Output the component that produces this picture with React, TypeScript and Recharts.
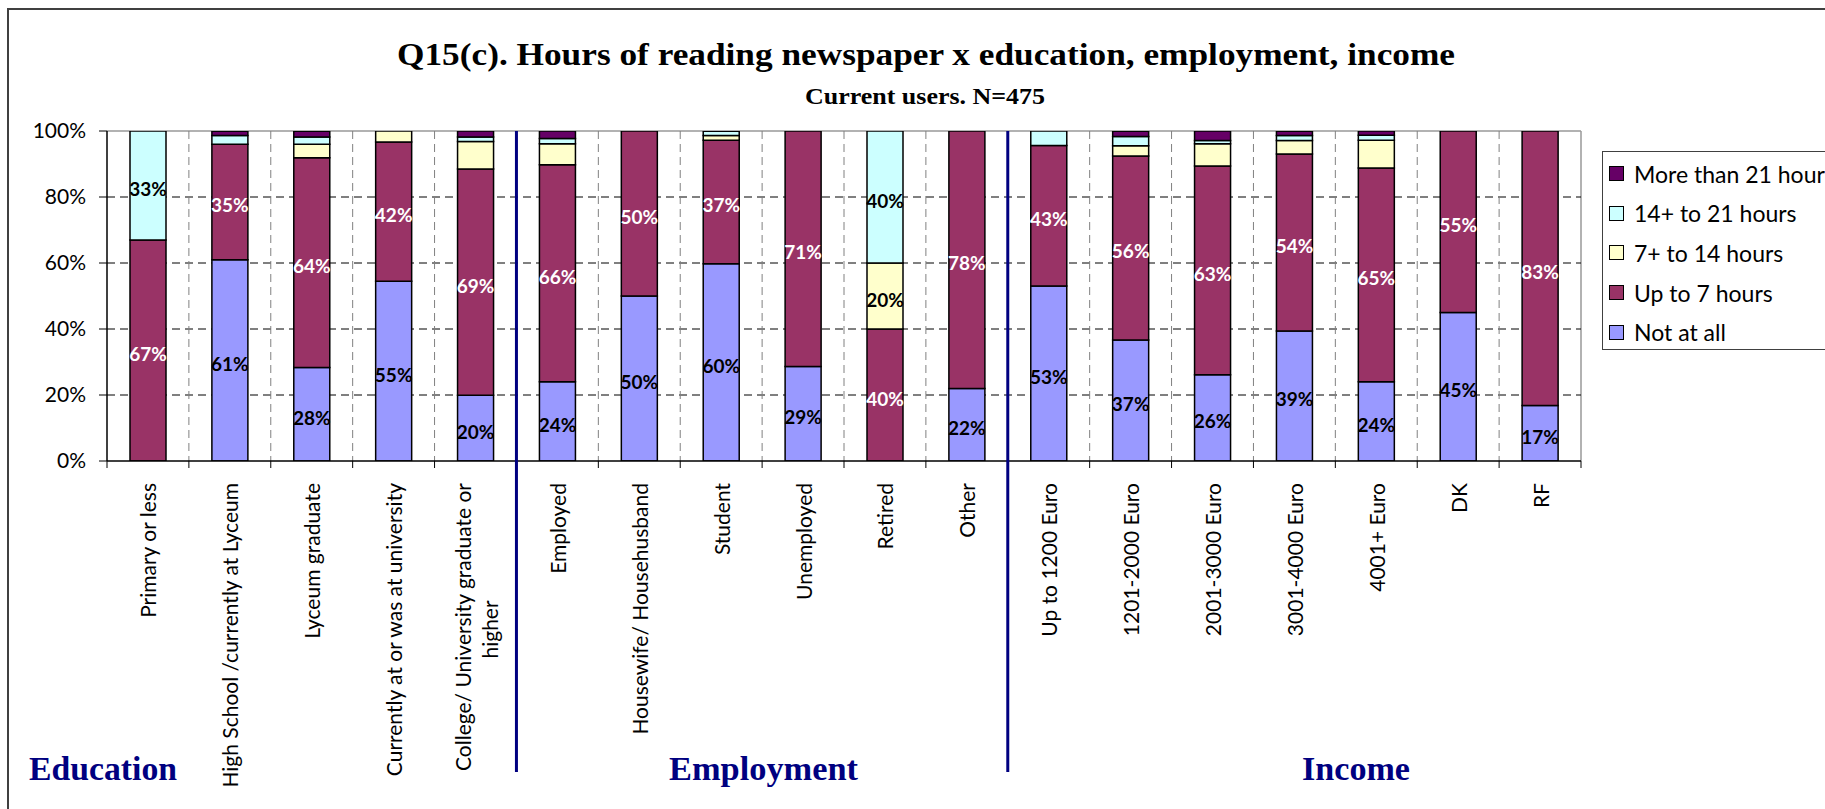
import React from 'react';
import { BarChart, Bar, XAxis, YAxis, CartesianGrid, Legend, LabelList } from 'recharts';

// categories, in order along the x axis
const CATEGORIES = [
  'Primary or less',
  'High School /currently at Lyceum',
  'Lyceum graduate',
  'Currently at or was at university',
  'College/ University graduate or higher',
  'Employed',
  'Housewife/ Househusband',
  'Student',
  'Unemployed',
  'Retired',
  'Other',
  'Up to 1200 Euro',
  '1201-2000 Euro',
  '2001-3000 Euro',
  '3001-4000 Euro',
  '4001+ Euro',
  'DK',
  'RF',
];

// group names and how many categories each one holds
const GROUP_NAMES = ['Education', 'Employment', 'Income'];
const GROUP_SIZES = [5, 6, 7];

// shares in %
const NOT_AT_ALL = [0, 61, 28.3, 54.5, 19.9, 24, 50, 59.8, 28.6, 0, 22, 53, 36.7, 26.1, 39.4, 24, 45, 16.8];
const UP_TO_7 = [67, 35, 63.6, 42.2, 68.6, 65.8, 50, 37.4, 71.4, 40, 78, 42.6, 55.7, 63.3, 53.6, 64.8, 55, 83.2];
const H7_TO_14 = [0, 0, 4.1, 3.3, 8.3, 6.3, 0, 1.4, 0, 20, 0, 0, 3.1, 6.7, 4.1, 8.4, 0, 0];
const H14_TO_21 = [33, 2.6, 2.2, 0, 1.4, 1.6, 0, 1.3, 0, 40, 0, 4.4, 2.8, 1.0, 1.5, 1.5, 0, 0];
const MORE_THAN_21 = [0, 1.3, 1.7, 0, 1.8, 2.3, 0, 0, 0, 0, 0, 0, 1.6, 2.9, 1.3, 1.3, 0, 0];

const Y_TICKS = [0, 20, 40, 60, 80, 100];

const SERIES = [
  { key: 'notAtAll', name: 'Not at all', values: NOT_AT_ALL, color: '#9999FF', text: '#000' },
  { key: 'upTo7', name: 'Up to 7 hours', values: UP_TO_7, color: '#993366', text: '#fff' },
  { key: 'h7to14', name: '7+ to 14 hours', values: H7_TO_14, color: '#FFFFCC', text: '#000' },
  { key: 'h14to21', name: '14+ to 21 hours', values: H14_TO_21, color: '#CCFFFF', text: '#000' },
  { key: 'moreThan21', name: 'More than 21 hours', values: MORE_THAN_21, color: '#660066', text: '#fff' },
];

const data = CATEGORIES.map((name, i) => {
  const row: Record<string, string | number> = { name };
  SERIES.forEach((s) => {
    row[s.key] = s.values[i];
  });
  return row;
});

// layout
const W = 1825;
const H = 809;
const PLOT_LEFT = 107;
const PLOT_TOP = 131;
const PLOT_RIGHT = 1581;
const PLOT_BOTTOM = 461;
const BAND = (PLOT_RIGHT - PLOT_LEFT) / CATEGORIES.length;
const NAVY = '#000080';
const SANS = 'Lato, "Open Sans", sans-serif';
const SERIF = '"Liberation Serif", serif';

const GROUP_TEXT = [
  { x: 29, len: 148 },
  { x: 669, len: 189 },
  { x: 1302, len: 108 },
];

function wrapLabel(text: string, max: number): string[] {
  const words = text.split(' ');
  const lines: string[] = [];
  let cur = '';
  words.forEach((w) => {
    const next = cur ? `${cur} ${w}` : w;
    if (next.length > max && cur) {
      lines.push(cur);
      cur = w;
    } else {
      cur = next;
    }
  });
  if (cur) lines.push(cur);
  return lines;
}

function CategoryTick(props: any) {
  const { x, y, payload } = props;
  const index = props.index ?? payload?.index ?? 0;
  const half = BAND / 2;
  const lines = wrapLabel(String(payload.value), 34);
  const fs = 21;
  const lh = 27;
  const anchorY = y + 22;
  const w0 = lines[0].length * 0.45 * fs;
  return (
    <g>
      <line x1={x - half} x2={x - half} y1={y} y2={y + 7} stroke="#000" strokeWidth={1} />
      {index === CATEGORIES.length - 1 && (
        <line x1={x + half} x2={x + half} y1={y} y2={y + 7} stroke="#000" strokeWidth={1} />
      )}
      {lines.map((ln, k) => {
        const dy = (k - (lines.length - 1) / 2) * lh;
        const first = k === 0;
        const tx = first ? x : x - w0 / 2;
        return (
          <text
            key={k}
            x={tx}
            y={anchorY + dy}
            transform={`rotate(-90 ${x} ${anchorY})`}
            textAnchor={first ? 'end' : 'middle'}
            dominantBaseline="central"
            fontFamily={SANS}
            fontSize={fs}
            fill="#000"
          >
            {ln}
          </text>
        );
      })}
    </g>
  );
}

const makeLabel = (fill: string) => (props: any) => {
  const x = Number(props.x);
  const y = Number(props.y);
  const width = Number(props.width);
  const height = Number(props.height);
  const value = Number(props.value);
  if (!value || value < 10) return null;
  return (
    <text
      x={x + width / 2}
      y={y + height / 2 + 3}
      textAnchor="middle"
      dominantBaseline="central"
      fill={fill}
      fontFamily={SANS}
      fontWeight={700}
      fontSize={19}
    >
      {`${Math.round(value)}%`}
    </text>
  );
};

const hGrid = (args: any) => {
  const top = args?.offset?.top ?? PLOT_TOP;
  const h = args?.offset?.height ?? PLOT_BOTTOM - PLOT_TOP;
  return Y_TICKS.filter((v) => v > 0 && v < 100).map((v) => top + h * (1 - v / 100));
};

const vGrid = (args: any) => {
  const left = args?.offset?.left ?? PLOT_LEFT;
  const w = args?.offset?.width ?? PLOT_RIGHT - PLOT_LEFT;
  const n = CATEGORIES.length;
  return Array.from({ length: n - 1 }, (_, i) => left + ((i + 1) * w) / n);
};

function LegendBox() {
  return (
    <div
      style={{
        position: 'relative',
        width: 240,
        height: 199,
        border: '1px solid #404040',
        boxSizing: 'border-box',
        background: '#fff',
        fontFamily: SANS,
      }}
    >
      {[...SERIES].reverse().map((s, i) => (
        <div
          key={s.key}
          style={{
            position: 'absolute',
            left: 6,
            top: 21.5 + i * 39.7 - 15,
            height: 30,
            display: 'flex',
            alignItems: 'center',
            whiteSpace: 'nowrap',
          }}
        >
          <span
            style={{
              width: 15,
              height: 15,
              boxSizing: 'border-box',
              background: s.color,
              border: '1.5px solid #000',
              display: 'inline-block',
            }}
          />
          <span style={{ marginLeft: 10, fontSize: 23, color: '#000' }}>{s.name}</span>
        </div>
      ))}
    </div>
  );
}

export default function App() {
  const bounds: number[] = [];
  let acc = 0;
  GROUP_SIZES.slice(0, -1).forEach((n) => {
    acc += n;
    bounds.push(PLOT_LEFT + acc * BAND);
  });

  return (
    <div
      style={{
        position: 'absolute',
        left: 0,
        top: 0,
        width: W,
        height: H,
        overflow: 'hidden',
        background: '#fff',
        fontFamily: SANS,
      }}
    >
      <svg width={W} height={H} style={{ position: 'absolute', left: 0, top: 0 }}>
        <rect x={8} y={9} width={W + 40} height={H + 40} fill="#fff" stroke="#404040" strokeWidth={2} />
        <line x1={PLOT_LEFT} x2={PLOT_RIGHT} y1={PLOT_TOP} y2={PLOT_TOP} stroke="#999" strokeWidth={1.5} />
        <line x1={PLOT_RIGHT} x2={PLOT_RIGHT} y1={PLOT_TOP} y2={PLOT_BOTTOM} stroke="#999" strokeWidth={1.5} />
        <text
          x={397}
          y={65}
          fontFamily={SERIF}
          fontWeight={700}
          fontSize={32}
          textLength={1058}
          lengthAdjust="spacingAndGlyphs"
          fill="#000"
        >
          Q15(c). Hours of reading newspaper x education, employment, income
        </text>
        <text
          x={805}
          y={104}
          fontFamily={SERIF}
          fontWeight={700}
          fontSize={23}
          textLength={240}
          lengthAdjust="spacingAndGlyphs"
          fill="#000"
        >
          Current users. N=475
        </text>
        {GROUP_NAMES.map((g, i) => (
          <text
            key={g}
            x={GROUP_TEXT[i].x}
            y={780}
            fontFamily={SERIF}
            fontWeight={700}
            fontSize={33}
            textLength={GROUP_TEXT[i].len}
            lengthAdjust="spacingAndGlyphs"
            fill={NAVY}
          >
            {g}
          </text>
        ))}
      </svg>

      <div style={{ position: 'absolute', left: 0, top: 0 }}>
        <BarChart
          width={W}
          height={H}
          data={data}
          margin={{ top: PLOT_TOP, right: W - PLOT_RIGHT, left: 0, bottom: 0 }}
        >
          <CartesianGrid
            vertical={false}
            stroke="#000"
            strokeDasharray="8 5"
            horizontalCoordinatesGenerator={hGrid}
          />
          <CartesianGrid
            horizontal={false}
            stroke="#808080"
            strokeDasharray="8 5"
            verticalCoordinatesGenerator={vGrid}
          />
          <XAxis
            dataKey="name"
            interval={0}
            height={H - PLOT_BOTTOM}
            tickLine={false}
            tickSize={0}
            tickMargin={0}
            axisLine={{ stroke: '#000', strokeWidth: 1.5 }}
            tick={<CategoryTick />}
          />
          <YAxis
            type="number"
            width={PLOT_LEFT}
            domain={[0, 100]}
            allowDataOverflow
            ticks={Y_TICKS}
            tickFormatter={(v: number) => `${v}%`}
            tickSize={8}
            tickMargin={13}
            tick={{ fill: '#000', fontSize: 21, fontFamily: SANS }}
            tickLine={{ stroke: '#000' }}
            axisLine={{ stroke: '#000', strokeWidth: 1.5 }}
          />
          <Legend
            layout="vertical"
            align="center"
            verticalAlign="middle"
            wrapperStyle={{ left: 1602, top: 151, width: 240, height: 199 }}
            content={() => <LegendBox />}
          />
          {SERIES.map((s) => (
            <Bar
              key={s.key}
              dataKey={s.key}
              name={s.name}
              stackId="a"
              fill={s.color}
              stroke="#000"
              strokeWidth={1.5}
              barSize={36}
              isAnimationActive={false}
            >
              <LabelList dataKey={s.key} content={makeLabel(s.text)} />
            </Bar>
          ))}
        </BarChart>
      </div>

      <svg
        width={W}
        height={H}
        style={{ position: 'absolute', left: 0, top: 0, pointerEvents: 'none' }}
      >
        {bounds.map((bx) => (
          <line key={bx} x1={bx} x2={bx} y1={PLOT_TOP} y2={772} stroke={NAVY} strokeWidth={3} />
        ))}
      </svg>
    </div>
  );
}
